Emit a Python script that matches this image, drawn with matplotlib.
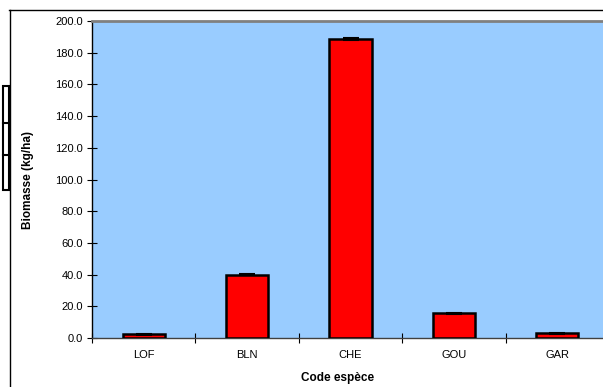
import matplotlib
matplotlib.use('Agg')
import matplotlib.pyplot as plt
from matplotlib.lines import Line2D
from matplotlib.patches import Rectangle
import numpy as np

plt.rcParams['font.family'] = ['Liberation Sans', 'DejaVu Sans']

# donnees
especes = ['LOF', 'BLN', 'CHE', 'GOU', 'GAR']
biomasse = [2.5, 39.9, 188.6, 15.6, 2.9]
erreur = [0.3, 0.4, 0.5, 0.3, 0.3]
y_ticks = [0, 20, 40, 60, 80, 100, 120, 140, 160, 180, 200]

W, H = 603, 387
fig = plt.figure(figsize=(W / 100, H / 100), dpi=100)

# zone du graphique (debordant a droite, comme l'original)
ax = fig.add_axes([92 / W, (H - 338) / H, 517 / W, 317 / H])
ax.set_facecolor('#99CCFF')

x = np.arange(len(especes))
ax.bar(x, biomasse, width=0.41, color='#FF0000', edgecolor='black', linewidth=1.8, zorder=3)
ax.errorbar(x, biomasse, yerr=erreur, fmt='none', ecolor='black', elinewidth=1,
            capsize=6, capthick=1.5, zorder=4)

ax.set_xlim(-0.5, len(especes) - 0.5)
ax.set_ylim(0, 200)
ax.set_yticks(y_ticks)
ax.set_yticklabels([f'{v:.1f}' for v in y_ticks], fontsize=8)
ax.set_xticks(x)
ax.set_xticklabels(especes, fontsize=8)
ax.tick_params(axis='x', length=0, pad=9)
ax.set_xticks(np.arange(len(especes) + 1) - 0.5, minor=True)
ax.tick_params(axis='x', which='minor', direction='inout', length=7, width=0.8)
ax.tick_params(axis='y', direction='inout', length=7, width=0.8, pad=3)

ax.spines['top'].set_color('#808080')
ax.spines['top'].set_linewidth(2)
ax.spines['left'].set_color('black')
ax.spines['left'].set_linewidth(1)
ax.spines['bottom'].set_color('#404040')
ax.spines['bottom'].set_linewidth(1)
ax.spines['right'].set_visible(False)

fig.text(28 / W, 1 - 180 / H, 'Biomasse (kg/ha)', rotation=90, fontsize=8.5,
         fontweight='bold', ha='center', va='center')
fig.text(338 / W, 1 - 378 / H, 'Code espèce', fontsize=8.5,
         fontweight='bold', ha='center', va='center')

# bordure de la zone de graphique
fig.add_artist(Line2D([9.5 / W, 9.5 / W], [0, 1 - 10 / H], color='black', lw=1,
                      transform=fig.transFigure))
fig.add_artist(Line2D([9 / W, 1], [1 - 10 / H, 1 - 10 / H], color='black', lw=1,
                      transform=fig.transFigure))

# reste de legende a gauche
fig.add_artist(Rectangle((3 / W, 1 - 190 / H), 6 / W, 104 / H, fill=False,
                         edgecolor='black', lw=1.5, transform=fig.transFigure))
for yy in [123, 155]:
    fig.add_artist(Line2D([3 / W, 9 / W], [1 - yy / H, 1 - yy / H], color='black', lw=1.5,
                          transform=fig.transFigure))

fig.savefig('out.png', dpi=100)
